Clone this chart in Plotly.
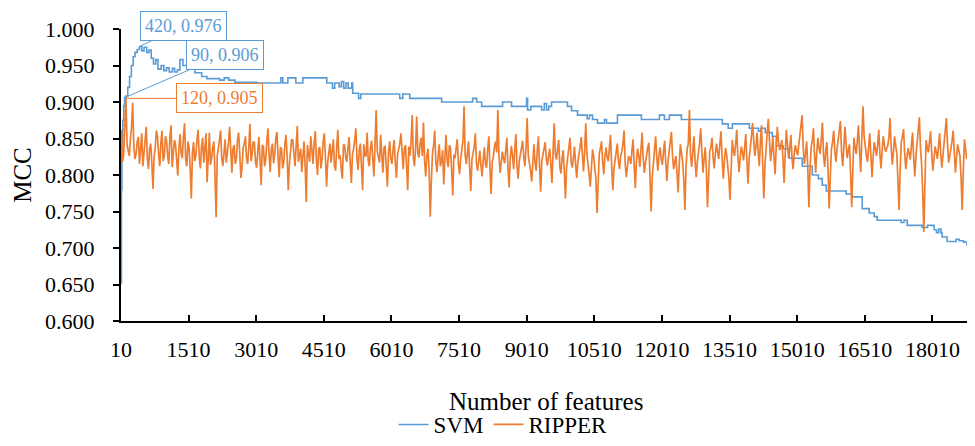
import plotly.graph_objects as go

# ---- data ----
tick_vals = [10, 1510, 3010, 4510, 6010, 7510, 9010, 10510, 12010, 13510, 15010, 16510, 18010]
y_ticks = [0.600, 0.650, 0.700, 0.750, 0.800, 0.850, 0.900, 0.950, 1.000]

svm_features = [10, 20, 30, 50, 70, 90, 120, 160, 200, 240, 280, 320, 370, 420, 470, 520, 580, 630,
                680, 730, 780, 830, 900, 960, 1020, 1080, 1150, 1200, 1260, 1317, 1384, 1500, 1650,
                1800, 1916, 2200, 2300, 2400, 2536, 3024, 3556, 3600, 3711, 3888, 4043, 4575, 4700,
                4750, 4850, 4900, 4950, 5000, 5050, 5129, 5150, 5280, 5330, 6192, 6260, 6414, 7123,
                7810, 7899, 8010, 8475, 8674, 9007, 9030, 9100, 9340, 9400, 9450, 9500, 9561, 9915,
                10004, 10137, 10350, 10400, 10470, 10580, 10735, 10780, 11023, 11555, 11954, 12064,
                12175, 12441, 13350, 13480, 13572, 13949, 14150, 14200, 14300, 14458, 14547, 14700,
                14835, 15123, 15345, 15480, 15566, 15655, 16098, 16231, 16453, 16608, 16719, 16785,
                17317, 17380, 17450, 17782, 17900, 18048, 18100, 18150, 18200, 18225, 18336, 18535,
                18602, 18700, 18779, 18860]
svm_mcc = [0.652, 0.780, 0.840, 0.875, 0.895, 0.906, 0.908, 0.920, 0.935, 0.950, 0.962, 0.968, 0.972,
           0.976, 0.970, 0.975, 0.968, 0.971, 0.960, 0.952, 0.958, 0.945, 0.950, 0.943, 0.947, 0.941,
           0.946, 0.941, 0.944, 0.958, 0.950, 0.945, 0.940, 0.935, 0.932, 0.930, 0.933, 0.930, 0.927,
           0.926, 0.933, 0.926, 0.933, 0.926, 0.933, 0.926, 0.919, 0.926, 0.921, 0.928, 0.919, 0.926,
           0.919, 0.926, 0.912, 0.905, 0.911, 0.905, 0.911, 0.905, 0.900, 0.905, 0.900, 0.894, 0.900,
           0.894, 0.905, 0.889, 0.894, 0.889, 0.898, 0.889, 0.894, 0.900, 0.894, 0.888, 0.882, 0.877,
           0.882, 0.876, 0.871, 0.876, 0.871, 0.882, 0.876, 0.882, 0.876, 0.882, 0.876, 0.870, 0.864,
           0.870, 0.864, 0.860, 0.864, 0.858, 0.853, 0.840, 0.836, 0.823, 0.812, 0.800, 0.795, 0.786,
           0.778, 0.774, 0.770, 0.754, 0.748, 0.743, 0.738, 0.735, 0.738, 0.731, 0.728, 0.731, 0.725,
           0.721, 0.726, 0.721, 0.715, 0.709, 0.712, 0.710, 0.708, 0.704, 0.703]

# RIPPER: values read at features 20, 70, 120, ... (every 50)
ripper_main = [
    0.862, 0.828, 0.905, 0.834, 0.851, 0.899, 0.822, 0.846, 0.815, 0.857, 0.831, 0.866, 0.808, 0.843, 0.781, 0.838, 0.852, 0.812, 0.861, 0.826,
    0.847, 0.815, 0.868, 0.829, 0.842, 0.799, 0.856, 0.823, 0.871, 0.812, 0.838, 0.768, 0.845, 0.826, 0.862, 0.809, 0.851, 0.834, 0.790, 0.858,
    0.823, 0.846, 0.742, 0.835, 0.861, 0.812, 0.849, 0.828, 0.866, 0.803, 0.841, 0.822, 0.858, 0.796, 0.837, 0.853, 0.815, 0.870, 0.829, 0.844,
    0.810, 0.852, 0.786, 0.839, 0.821, 0.864, 0.804, 0.843, 0.828, 0.859, 0.797, 0.836, 0.817, 0.855, 0.779, 0.832, 0.848, 0.812, 0.867, 0.825,
    0.804, 0.846, 0.763, 0.829, 0.853, 0.815, 0.860, 0.800, 0.838, 0.822, 0.857, 0.784, 0.835, 0.817, 0.849, 0.806, 0.862, 0.827, 0.795, 0.841,
    0.818, 0.852, 0.789, 0.836, 0.864, 0.807, 0.843, 0.779, 0.826, 0.858, 0.812, 0.847, 0.798, 0.889, 0.821, 0.855, 0.803, 0.839, 0.784, 0.846,
    0.815, 0.848, 0.796, 0.834, 0.857, 0.808, 0.841, 0.779, 0.826, 0.882, 0.812, 0.880, 0.824, 0.851, 0.872, 0.798, 0.836, 0.743, 0.829, 0.861,
    0.804, 0.842, 0.818, 0.787, 0.855, 0.811, 0.836, 0.772, 0.823, 0.849, 0.801, 0.838, 0.894, 0.815, 0.846, 0.778, 0.829, 0.857, 0.806, 0.833,
    0.798, 0.838, 0.810, 0.853, 0.774, 0.825, 0.846, 0.889, 0.803, 0.832, 0.816, 0.851, 0.783, 0.840, 0.808, 0.856, 0.795, 0.829, 0.847, 0.812,
    0.878, 0.819, 0.791, 0.842, 0.806, 0.853, 0.777, 0.828, 0.845, 0.813, 0.836, 0.789, 0.871, 0.821, 0.848, 0.802, 0.834, 0.768, 0.826, 0.851,
    0.810, 0.839, 0.796, 0.827, 0.852, 0.805, 0.871, 0.818, 0.784, 0.835, 0.812, 0.748, 0.829, 0.846, 0.801, 0.838, 0.819, 0.855, 0.779, 0.823,
    0.843, 0.808, 0.832, 0.861, 0.797, 0.826, 0.815, 0.849, 0.782, 0.836, 0.811, 0.858, 0.803, 0.829, 0.844, 0.750, 0.821, 0.853, 0.806, 0.838,
    0.814, 0.847, 0.792, 0.833, 0.859, 0.808, 0.826, 0.776, 0.842, 0.818, 0.752, 0.836, 0.889, 0.811, 0.853, 0.797, 0.829, 0.864, 0.803, 0.838,
    0.756, 0.832, 0.851, 0.809, 0.843, 0.822, 0.860, 0.795, 0.837, 0.815, 0.766, 0.848, 0.826, 0.862, 0.804, 0.839, 0.820, 0.856, 0.788, 0.844,
    0.871, 0.826, 0.858, 0.812, 0.868, 0.768, 0.845, 0.877, 0.819, 0.852, 0.801, 0.866, 0.834, 0.848, 0.789, 0.862, 0.823, 0.855, 0.808, 0.841,
    0.827, 0.858, 0.882, 0.815, 0.846, 0.756, 0.838, 0.864, 0.803, 0.851, 0.829, 0.872, 0.811, 0.845, 0.754, 0.836, 0.861, 0.818, 0.849, 0.874,
    0.812, 0.866, 0.823, 0.842, 0.756, 0.851, 0.829, 0.868, 0.804, 0.894, 0.836, 0.818, 0.857, 0.797, 0.845, 0.826, 0.862, 0.809, 0.853, 0.832,
    0.840, 0.878, 0.814, 0.853, 0.829, 0.752, 0.846, 0.863, 0.808, 0.837, 0.821, 0.858, 0.798, 0.842, 0.879, 0.815, 0.722, 0.848, 0.831, 0.860,
    0.806, 0.839, 0.822, 0.857, 0.810, 0.845, 0.878, 0.817, 0.834, 0.861, 0.803, 0.842, 0.826, 0.752, 0.849, 0.822, 0.831,
]
# RIPPER: values read at features 45, 95, 145, ... (in between the above)
ripper_mid = [
    0.818, 0.872, 0.841, 0.826, 0.866, 0.838, 0.829, 0.852, 0.841, 0.812, 0.849, 0.822, 0.836, 0.815, 0.826, 0.861, 0.829, 0.844, 0.819, 0.853,
    0.826, 0.852, 0.811, 0.848, 0.819, 0.837, 0.829, 0.852, 0.821, 0.846, 0.808, 0.831, 0.819, 0.848, 0.826, 0.838, 0.817, 0.857, 0.829, 0.814,
    0.838, 0.801, 0.826, 0.848, 0.822, 0.839, 0.817, 0.845, 0.824, 0.836, 0.815, 0.849, 0.828, 0.811, 0.843, 0.823, 0.838, 0.819, 0.846, 0.817,
    0.833, 0.819, 0.841, 0.812, 0.846, 0.827, 0.835, 0.816, 0.851, 0.823, 0.838, 0.809, 0.842, 0.826, 0.815, 0.848, 0.821, 0.839, 0.818, 0.836,
    0.827, 0.812, 0.841, 0.818, 0.832, 0.844, 0.821, 0.836, 0.809, 0.846, 0.825, 0.817, 0.843, 0.829, 0.812, 0.838, 0.822, 0.809, 0.841, 0.824,
    0.837, 0.816, 0.829, 0.848, 0.822, 0.834, 0.811, 0.842, 0.826, 0.819, 0.838, 0.823, 0.841, 0.832, 0.817, 0.826, 0.838, 0.812, 0.831, 0.823,
    0.834, 0.816, 0.828, 0.843, 0.821, 0.836, 0.812, 0.839, 0.846, 0.823, 0.837, 0.829, 0.843, 0.826, 0.819, 0.827, 0.808, 0.792, 0.841, 0.818,
    0.826, 0.812, 0.834, 0.823, 0.819, 0.841, 0.806, 0.828, 0.837, 0.815, 0.822, 0.846, 0.827, 0.832, 0.809, 0.821, 0.838, 0.817, 0.826, 0.813,
    0.821, 0.815, 0.836, 0.809, 0.818, 0.839, 0.831, 0.826, 0.817, 0.822, 0.834, 0.808, 0.823, 0.826, 0.835, 0.812, 0.819, 0.836, 0.824, 0.838,
    0.827, 0.806, 0.823, 0.817, 0.835, 0.812, 0.819, 0.838, 0.822, 0.826, 0.814, 0.832, 0.828, 0.836, 0.811, 0.824, 0.803, 0.811, 0.838, 0.819,
    0.823, 0.814, 0.818, 0.839, 0.821, 0.832, 0.829, 0.801, 0.816, 0.826, 0.794, 0.806, 0.837, 0.818, 0.826, 0.824, 0.838, 0.813, 0.808, 0.834,
    0.819, 0.827, 0.843, 0.815, 0.812, 0.823, 0.834, 0.811, 0.821, 0.826, 0.835, 0.822, 0.817, 0.838, 0.806, 0.797, 0.839, 0.824, 0.828, 0.821,
    0.832, 0.816, 0.819, 0.844, 0.826, 0.818, 0.801, 0.817, 0.829, 0.793, 0.812, 0.843, 0.826, 0.832, 0.819, 0.818, 0.843, 0.827, 0.822, 0.808,
    0.797, 0.838, 0.824, 0.829, 0.831, 0.842, 0.823, 0.819, 0.828, 0.796, 0.812, 0.834, 0.843, 0.825, 0.823, 0.831, 0.838, 0.819, 0.822, 0.853,
    0.844, 0.839, 0.831, 0.846, 0.815, 0.813, 0.858, 0.836, 0.833, 0.826, 0.838, 0.847, 0.839, 0.821, 0.829, 0.842, 0.836, 0.824, 0.829, 0.833,
    0.841, 0.866, 0.836, 0.829, 0.811, 0.808, 0.847, 0.828, 0.832, 0.837, 0.849, 0.826, 0.834, 0.806, 0.798, 0.845, 0.833, 0.836, 0.858, 0.831,
    0.838, 0.842, 0.834, 0.801, 0.809, 0.838, 0.847, 0.831, 0.852, 0.853, 0.827, 0.842, 0.826, 0.824, 0.836, 0.841, 0.829, 0.833, 0.841, 0.836,
    0.852, 0.838, 0.831, 0.841, 0.793, 0.807, 0.852, 0.829, 0.824, 0.829, 0.841, 0.823, 0.826, 0.859, 0.838, 0.776, 0.791, 0.837, 0.846, 0.829,
    0.823, 0.831, 0.839, 0.829, 0.828, 0.859, 0.843, 0.826, 0.846, 0.831, 0.824, 0.834, 0.798, 0.803, 0.836, 0.827,
]

ripper_features, ripper_mcc = [], []
for i, v in enumerate(ripper_main):
    ripper_features.append(20 + 50 * i)
    ripper_mcc.append(v)
    if i < len(ripper_mid):
        ripper_features.append(45 + 50 * i)
        ripper_mcc.append(ripper_mid[i])

labels = [
    # (x, y, text, colour, ax, ay)
    (420, 0.976, "420, 0.976", "#5B9BD5", 44, -21),
    (90, 0.906, "90, 0.906", "#5B9BD5", 100, -43),
    (120, 0.905, "120, 0.905", "#ED7D31", 94, 0),
]

BLUE = "#5B9BD5"
ORANGE = "#ED7D31"
FONT = "Liberation Serif"

fig = go.Figure()
fig.add_trace(go.Scatter(x=svm_features, y=svm_mcc, mode="lines", name="SVM",
                         line=dict(color=BLUE, width=1.6, shape="hv")))
fig.add_trace(go.Scatter(x=ripper_features, y=ripper_mcc, mode="lines", name="RIPPER",
                         line=dict(color=ORANGE, width=1.7)))

for x, y, txt, col, ax, ay in labels:
    fig.add_annotation(x=x, y=y, text=txt, showarrow=True, arrowhead=0, arrowwidth=1,
                       arrowcolor=col, ax=ax, ay=ay, font=dict(family=FONT, size=18, color=col),
                       bordercolor=col, borderwidth=1, borderpad=4, bgcolor="white")

# x-axis title
fig.add_annotation(x=0.5, y=0, xref="paper", yref="paper", text="Number of features",
                   showarrow=False, yanchor="middle", yshift=-80,
                   font=dict(family=FONT, size=25, color="black"))

# page body has an 8px margin: figure is sized/margined so the plot lands where the reference has it
fig.update_layout(
    width=967, height=438,
    margin=dict(l=113, r=4, t=21, b=125, autoexpand=False),
    paper_bgcolor="white", plot_bgcolor="white",
    font=dict(family=FONT, color="#000000"),
    showlegend=True,
    legend=dict(orientation="h", xref="container", yref="container", x=0.512, y=0.0,
                xanchor="center", yanchor="bottom", font=dict(size=23, family=FONT),
                itemwidth=30, tracegroupgap=0),
)
fig.update_xaxes(range=[10, 18866], tickvals=tick_vals, ticktext=[str(v) for v in tick_vals],
                 showline=True, linecolor="black", linewidth=2, ticks="inside", ticklen=6,
                 tickwidth=2, tickcolor="black", showgrid=False, zeroline=False, automargin=False,
                 tickfont=dict(size=22, family=FONT), ticklabelstandoff=8)
fig.update_yaxes(range=[0.6, 1.0], tickvals=y_ticks, tickformat=".3f",
                 showline=True, linecolor="black", linewidth=2, ticks="outside", ticklen=6,
                 tickwidth=2, tickcolor="black", showgrid=False, zeroline=False, automargin=False,
                 tickfont=dict(size=22, family=FONT), ticklabelstandoff=14,
                 title=dict(text="MCC", font=dict(size=25, family=FONT), standoff=6))

fig.write_html("out.html")
